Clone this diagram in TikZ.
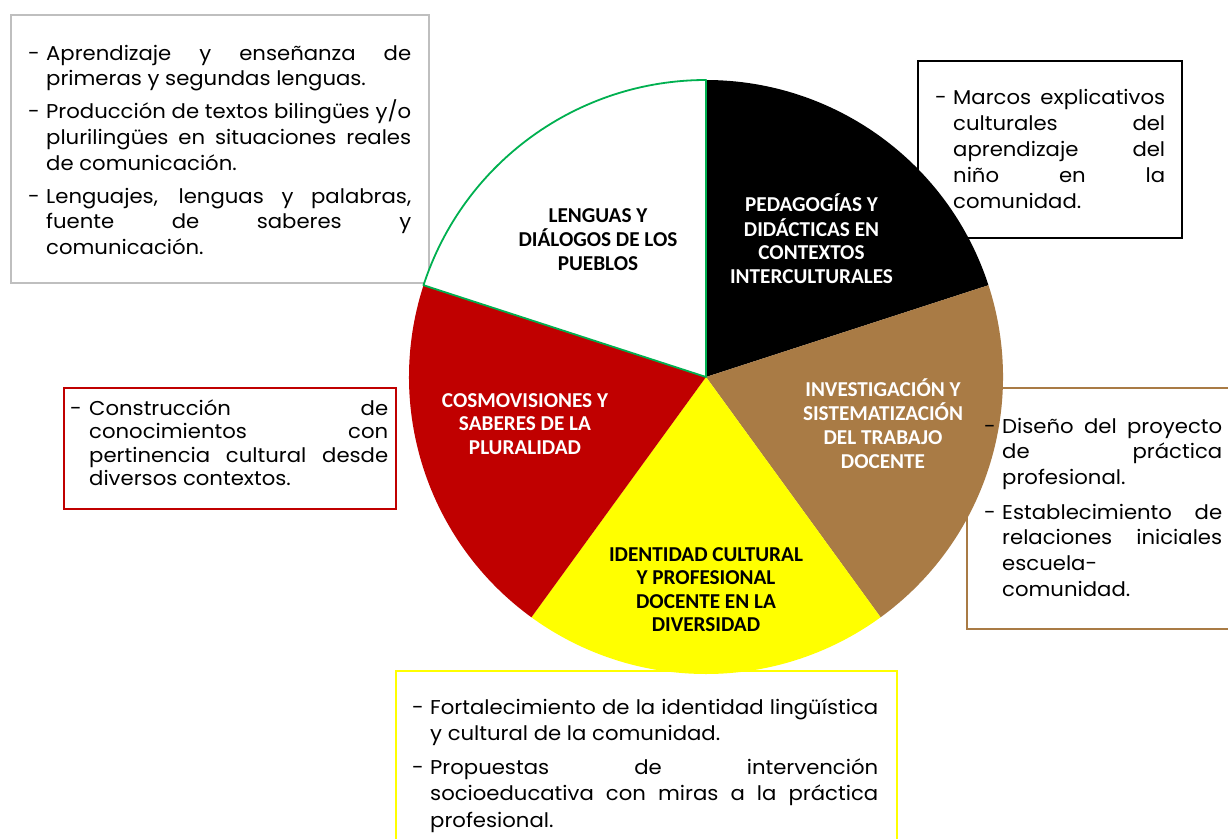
\documentclass[tikz,border=0pt]{standalone}
\usepackage{fontspec}
\setmainfont{Poppins}[FakeStretch=1.06]
\newfontfamily\labfont{Carlito}
\definecolor{pbrown}{HTML}{A97B45}
\definecolor{pred}{HTML}{C00000}
\definecolor{pyellow}{HTML}{FFFF00}
\definecolor{pgreen}{HTML}{00B050}
\definecolor{pgray}{HTML}{BFBFBF}
\newlength\di \newlength\tw
\newcommand{\fj}[1]{\noindent\makebox[\di][l]{-}\makebox[\tw][s]{#1}\par}
\newcommand{\fl}[1]{\noindent\makebox[\di][l]{-}#1\par}
\newcommand{\cj}[1]{\noindent\hspace*{\di}\makebox[\tw][s]{#1}\par}
\newcommand{\cl}[1]{\noindent\hspace*{\di}#1\par}
\newcommand{\bodytext}[4]{\setlength\di{#1}\setlength\tw{#2}%
  \parbox[t]{\dimexpr#1+#2\relax}{\parskip=0pt\parindent=0pt\fontsize{20}{#3}\selectfont #4}}
\newcommand{\lab}[1]{\labfont\bfseries\fontsize{21.2}{23.6}\selectfont\begin{tabular}[t]{@{}c@{}}#1\end{tabular}}
\begin{document}
\begin{tikzpicture}[x=1pt,y=-1pt,
  frame/.style={draw, fill=white, line width=1.6pt, inner sep=0pt, anchor=north west},
  btext/.style={anchor=base west, inner sep=0pt, text=black},
  slab/.style={anchor=base, inner sep=0pt}]
\useasboundingbox (0,0) rectangle (1228,838);
\fill[white] (0,0) rectangle (1228,838);
% frames
\node[frame, draw=pgray, minimum width=418pt, minimum height=268pt] (fgray) at (10,14) {};
\node[frame, draw=black, minimum width=264pt, minimum height=177pt] (fblack) at (917,60) {};
\node[frame, draw=pbrown, minimum width=270pt, minimum height=241pt] (fbrown) at (966,387) {};
\node[frame, draw=pred, minimum width=332pt, minimum height=121pt] (fred) at (63,387) {};
\node[frame, draw=pyellow, minimum width=501pt, minimum height=200pt] (fyellow) at (395,670) {};
% pie
\coordinate (C) at (706,377);
\fill[black] (C) -- ++(90:297pt) arc[start angle=90, end angle=18, radius=297pt] -- cycle;
\fill[pbrown] (C) -- ++(18:297pt) arc[start angle=18, end angle=-54, radius=297pt] -- cycle;
\fill[pyellow] (C) -- ++(-54:297pt) arc[start angle=-54, end angle=-126, radius=297pt] -- cycle;
\fill[pred] (C) -- ++(-126:297pt) arc[start angle=-126, end angle=-198, radius=297pt] -- cycle;
\filldraw[fill=white, draw=pgreen, line width=1.8pt, line join=round] (C) -- ++(162:297pt) arc[start angle=162, end angle=90, radius=297pt] -- cycle;
% box texts
\node[btext] (tgray) at (28,60) {\bodytext{18pt}{365pt}{25.8pt}{%
\fj{Aprendizaje y enseñanza de}
\cl{primeras y segundas lenguas.}
\vspace{7pt}
\fj{Producción de textos bilingües y/o}
\cj{plurilingües en situaciones reales}
\cl{de comunicación.}
\vspace{7pt}
\fj{Lenguajes, lenguas y palabras,}
\cj{fuente de saberes y}
\cl{comunicación.}}};
\node[btext] (tblack) at (935,104) {\bodytext{18pt}{212pt}{26pt}{%
\fj{Marcos explicativos}
\cj{culturales del}
\cj{aprendizaje del}
\cj{niño en la}
\cl{comunidad.}}};
\node[btext] (tbrown) at (984,433) {\bodytext{18pt}{220pt}{25.7pt}{%
\fj{Diseño del proyecto}
\cj{de práctica}
\cl{profesional.}
\vspace{9pt}
\fj{Establecimiento de}
\cj{relaciones iniciales}
\cl{escuela-}
\cl{comunidad.}}};
\node[btext] (tred) at (70,415) {\bodytext{19pt}{299pt}{23.5pt}{%
\fj{Construcción de}
\cj{conocimientos con}
\cj{pertinencia cultural desde}
\cl{diversos contextos.}}};
\node[btext] (tyellow) at (412,714) {\bodytext{18pt}{448pt}{26.3pt}{%
\fj{Fortalecimiento de la identidad lingüística}
\cl{y cultural de la comunidad.}
\vspace{8pt}
\fj{Propuestas de intervención}
\cj{socioeducativa con miras a la práctica}
\cl{profesional.}}};
% slice labels
\node[slab, text=black] (lwhite) at (598,222) {\lab{LENGUAS Y\\DIÁLOGOS DE LOS\\PUEBLOS}};
\node[slab, text=white] (lblack) at (811.5,211.5) {\lab{PEDAGOGÍAS Y\\DIDÁCTICAS EN\\CONTEXTOS\\INTERCULTURALES}};
\node[slab, text=white] (lbrown) at (883,396) {\lab{INVESTIGACIÓN Y\\SISTEMATIZACIÓN\\DEL TRABAJO\\DOCENTE}};
\node[slab, text=black] (lyellow) at (706,561) {\lab{IDENTIDAD CULTURAL\\Y PROFESIONAL\\DOCENTE EN LA\\DIVERSIDAD}};
\node[slab, text=white] (lred) at (525,407) {\lab{COSMOVISIONES Y\\SABERES DE LA\\PLURALIDAD}};
\end{tikzpicture}
\end{document}
